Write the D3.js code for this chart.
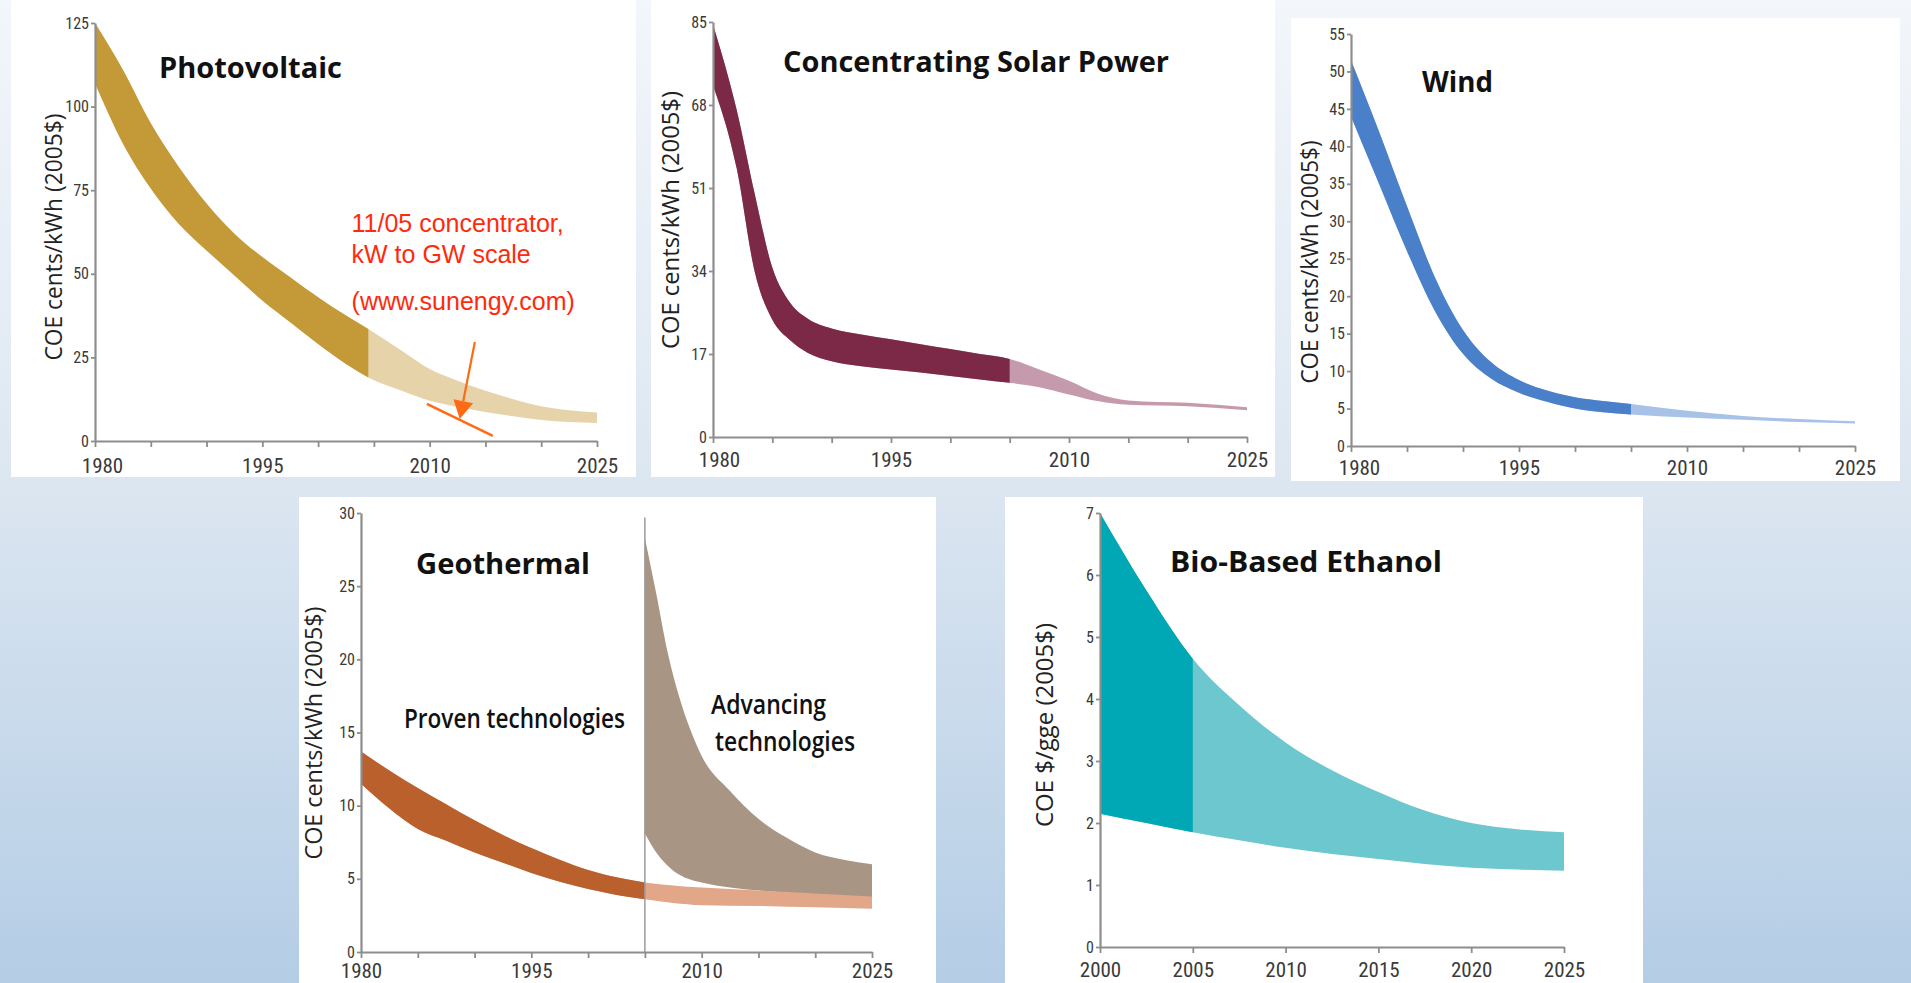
<!DOCTYPE html>
<html><head><meta charset="utf-8">
<script src="https://cdn.jsdelivr.net/npm/d3@7"></script>
<style>
html,body{margin:0;padding:0;overflow:hidden;background:#fff;}
svg{display:block;}
</style></head>
<body>
<svg id="c" width="1911" height="983"></svg>
<script>
// ---------------- DATA ----------------
const yearTicks = [1980, 1985, 1990, 1995, 2000, 2005, 2010, 2015, 2020, 2025];
const yearLabels = [1980, 1995, 2010, 2025];
const ethYearTicks = [2000, 2005, 2010, 2015, 2020, 2025];
const ethYearLabels = [2000, 2005, 2010, 2015, 2020, 2025];

const pvYTicks = [0, 25, 50, 75, 100, 125];
const cspYTicks = [0, 17, 34, 51, 68, 85];
const windYTicks = [0, 5, 10, 15, 20, 25, 30, 35, 40, 45, 50, 55];
const geoYTicks = [0, 5, 10, 15, 20, 25, 30];
const ethYTicks = [0, 1, 2, 3, 4, 5, 6, 7];

// Photovoltaic (cents/kWh)
const pvYears = [1980, 1982.5, 1985, 1987.5, 1990, 1992.5, 1995, 1997.5, 2000, 2002.5, 2004.5, 2007.5, 2010, 2012.5, 2015, 2017.5, 2020, 2022.5, 2025];
const pvHigh  = [125, 111, 95, 82, 71, 62, 55, 49, 43, 37.5, 33.5, 27, 21.5, 18, 15, 12.5, 10.4, 9.2, 8.5];
const pvLow   = [107, 89, 75.5, 65, 57, 49.5, 42, 35.5, 29, 23, 19, 15, 12, 10.2, 8.7, 7.4, 6.3, 5.7, 5.4];
const pvSplit = 2004.5;

// Concentrating Solar Power
const cspYears = [1980, 1982, 1983.5, 1985, 1986.5, 1988, 1990, 1992.5, 1995, 1997.5, 2000, 2002.5, 2005, 2007.5, 2010, 2012.5, 2015, 2020, 2025];
const cspHigh  = [84.5, 67, 50, 34.7, 27.5, 24.2, 22.2, 21, 20, 19, 18, 17, 16, 13.8, 11.5, 8.8, 7.5, 7.0, 6.1];
const cspLow   = [72, 55, 34, 24, 19.8, 17.2, 15.5, 14.5, 13.8, 13.2, 12.5, 11.8, 11.1, 10.2, 8.7, 7.3, 6.6, 6.3, 5.5];
const cspSplit = 2005;

// Wind
const windYears = [1980, 1982.5, 1985, 1987.5, 1990, 1992.5, 1995, 1997.5, 2000, 2002.5, 2005, 2010, 2015, 2020, 2025];
const windHigh  = [51.5, 42, 32, 22.5, 15.5, 11.2, 8.8, 7.4, 6.5, 6.0, 5.6, 4.7, 4.0, 3.6, 3.3];
const windLow   = [44, 35, 26, 18, 12.3, 9.0, 7.1, 5.9, 5.0, 4.5, 4.2, 3.8, 3.5, 3.2, 3.0];
const windSplit = 2005;

// Geothermal – proven technologies
const geoYears = [1980, 1982.5, 1985, 1987.5, 1990, 1992.5, 1995, 1997.5, 2000, 2002.5, 2005, 2007.5, 2010, 2015, 2020, 2025];
const geoHigh  = [13.7, 12.4, 11.2, 10.1, 9.0, 8.0, 7.1, 6.3, 5.6, 5.1, 4.75, 4.55, 4.4, 4.2, 4.0, 3.8];
const geoLow   = [11.5, 9.8, 8.4, 7.6, 6.8, 6.1, 5.4, 4.8, 4.3, 3.9, 3.6, 3.35, 3.2, 3.15, 3.05, 2.95];
const geoSplit = 2005;
// Geothermal – advancing technologies
const advYears = [2005, 2006, 2007, 2008, 2009, 2010, 2012.5, 2015, 2017.5, 2020, 2022.5, 2025];
const advHigh  = [28.3, 24.5, 20.5, 17.5, 15.2, 13.4, 11.0, 9.1, 7.8, 6.8, 6.3, 6.0];
const advLow   = [8.1, 6.8, 5.9, 5.3, 4.95, 4.75, 4.4, 4.2, 4.05, 3.95, 3.8, 3.65];

// Bio-based ethanol ($/gge)
const ethYears = [2000, 2002.5, 2005, 2007.5, 2010, 2012.5, 2015, 2017.5, 2020, 2022.5, 2025];
const ethHigh  = [7.0, 5.75, 4.65, 3.9, 3.3, 2.85, 2.5, 2.2, 2.0, 1.9, 1.85];
const ethLow   = [2.15, 2.0, 1.85, 1.72, 1.6, 1.5, 1.42, 1.34, 1.28, 1.25, 1.23];
const ethSplit = 2005;

// annotation (in PV data coordinates)
const noteLines = ["11/05 concentrator,", "kW to GW scale", "(www.sunengy.com)"];

// ---------------- LAYOUT / STYLE ----------------
const TICK_FONT = '"Liberation Sans Narrow", "Roboto Condensed", "DejaVu Sans Condensed", Roboto, sans-serif';
const TITLE_FONT = '"Open Sans", "Noto Sans", sans-serif';

const panels = [
  { box:[11,0,625,477], px:[95,597], py:[441,23], xd:[1980,2025], yd:[0,125],
    xt:yearTicks, xl:yearLabels, yt:pvYTicks, labelGap:11, firstShift:7,
    series:[{years:pvYears, hi:pvHigh, lo:pvLow, split:pvSplit, dark:"#c49a38", light:"#e6d3a9"}],
    title:[{t:"Photovoltaic", x:159, y:78, w:183}],
    ytitle:{t:"COE cents/kWh (2005$)", x:54, y:237, w:247} },
  { box:[651,0,624,477], px:[713,1247], py:[437,22], xd:[1980,2025], yd:[0,85],
    xt:yearTicks, xl:yearLabels, yt:cspYTicks, labelGap:9, firstShift:6,
    series:[{years:cspYears, hi:cspHigh, lo:cspLow, split:cspSplit, dark:"#7b2947", light:"#c69aad"}],
    title:[{t:"Concentrating Solar Power", x:783, y:72, w:386}],
    ytitle:{t:"COE cents/kWh (2005$)", x:671, y:220, w:258} },
  { box:[1291,18,609,463], px:[1351,1855], py:[446,34], xd:[1980,2025], yd:[0,55],
    xt:yearTicks, xl:yearLabels, yt:windYTicks, labelGap:8, firstShift:8,
    series:[{years:windYears, hi:windHigh, lo:windLow, split:windSplit, dark:"#4a7fc9", light:"#a8c2e7"}],
    title:[{t:"Wind", x:1422, y:92, w:71}],
    ytitle:{t:"COE cents/kWh (2005$)", x:1310, y:262, w:243} },
  { box:[299,497,637,486], px:[361,872], py:[952,513], xd:[1980,2025], yd:[0,30],
    xt:yearTicks, xl:yearLabels, yt:geoYTicks, labelGap:5, firstShift:0,
    series:[
      {years:advYears, hi:advHigh, lo:advLow, split:null, dark:"#a89584", light:"#a89584"},
      {years:geoYears, hi:geoHigh, lo:geoLow, split:geoSplit, dark:"#b9602d", light:"#e2a688"}],
    divider:2005,
    title:[{t:"Geothermal", x:416, y:574, w:174},
           {t:"Proven technologies", x:404, y:728, w:221, s:27},
           {t:"Advancing", x:711, y:714, w:115, s:27},
           {t:"technologies", x:715, y:751, w:140, s:27}],
    ytitle:{t:"COE cents/kWh (2005$)", x:314, y:733, w:253} },
  { box:[1005,497,638,486], px:[1100,1564], py:[947,513], xd:[2000,2025], yd:[0,7],
    xt:ethYearTicks, xl:ethYearLabels, yt:ethYTicks, labelGap:9, firstShift:0,
    series:[{years:ethYears, hi:ethHigh, lo:ethLow, split:ethSplit, dark:"#00a7b4", light:"#6cc7cf"}],
    title:[{t:"Bio-Based Ethanol", x:1170, y:572, w:272}],
    ytitle:{t:"COE $/gge (2005$)", x:1045, y:725, w:204} }
];

// ---------------- DRAW ----------------
const svg = d3.select("#c");
const defs = svg.append("defs");
const grad = defs.append("linearGradient").attr("id","bg").attr("x1",0).attr("y1",0).attr("x2",0).attr("y2",1);
[["0","#f3f6fa"],["0.45","#dfe8f2"],["1","#b4cde5"]].forEach(s=>grad.append("stop").attr("offset",s[0]).attr("stop-color",s[1]));
svg.append("rect").attr("width",1911).attr("height",983).attr("fill","url(#bg)");

panels.forEach((p, pi) => {
  const g = svg.append("g");
  g.append("rect").attr("x",p.box[0]).attr("y",p.box[1]).attr("width",p.box[2]).attr("height",p.box[3]).attr("fill","#fff");
  const x = d3.scaleLinear().domain(p.xd).range(p.px);
  const y = d3.scaleLinear().domain(p.yd).range(p.py);
  p.x = x; p.y = y;

  const area = d3.area().x(d=>x(d.year)).y0(d=>y(d.lo)).y1(d=>y(d.hi)).curve(d3.curveMonotoneX);

  p.series.forEach((s, si) => {
    const pts = s.years.map((yr,i)=>({year:yr, hi:s.hi[i], lo:s.lo[i]}));
    g.append("path").attr("d", area(pts)).attr("fill", s.light);
    if (s.split != null) {
      const cid = `clip${pi}_${si}`;
      defs.append("clipPath").attr("id",cid).append("rect")
        .attr("x", x(s.years[0]) - 2).attr("y", p.py[1] - 20)
        .attr("width", x(s.split) - x(s.years[0]) + 2).attr("height", p.py[0] - p.py[1] + 40);
      g.append("path").attr("d", area(pts)).attr("fill", s.dark).attr("clip-path", `url(#${cid})`);
    }
  });

  if (p.divider != null) {
    g.append("line").attr("x1",x(p.divider)).attr("x2",x(p.divider))
      .attr("y1",y(29.7)).attr("y2",y(0)).attr("stroke","#9b9b9b").attr("stroke-width",1.5);
  }

  // axes
  const lab = new Set(p.xl);
  const xa = g.append("g").attr("transform",`translate(0,${p.py[0]})`)
    .call(d3.axisBottom(x).tickValues(p.xt).tickSize(6).tickSizeOuter(0).tickPadding(p.labelGap)
      .tickFormat(d => lab.has(d) ? String(d) : ""));
  const ya = g.append("g").attr("transform",`translate(${p.px[0]},0)`)
    .call(d3.axisLeft(y).tickValues(p.yt).tickSize(4).tickSizeOuter(0).tickPadding(2)
      .tickFormat(d => String(d)));
  [xa, ya].forEach(a => {
    a.attr("font-family", null).attr("font-size", null);
    a.selectAll("path.domain").attr("stroke","#8d8d8d").attr("stroke-width",2.2);
    a.selectAll(".tick line").attr("stroke","#8d8d8d").attr("stroke-width",1.8);
    a.selectAll("text").attr("fill","#3a3a3a").style("font-family",TICK_FONT);
  });
  xa.selectAll("text").style("font-size","21px");
  ya.selectAll("text").style("font-size","16px");
  if (p.firstShift) xa.selectAll(".tick").filter(d => d === p.xd[0]).select("text").attr("dx", p.firstShift);

  // titles
  p.title.forEach(t => {
    g.append("text").attr("x",t.x).attr("y",t.y).text(t.t)
      .style("font-family",TITLE_FONT).style("font-weight", t.s ? 600 : 700)
      .style("font-size",(t.s||28)+"px").attr("fill","#111")
      .attr("textLength",t.w).attr("lengthAdjust","spacingAndGlyphs");
  });
  const yt = p.ytitle;
  g.append("text").attr("transform",`translate(${yt.x},${yt.y}) rotate(-90)`)
    .attr("text-anchor","middle").attr("dy","0.35em").text(yt.t)
    .style("font-family",TITLE_FONT).style("font-size","23px").attr("fill","#222")
    .attr("textLength",yt.w).attr("lengthAdjust","spacingAndGlyphs");
});

// annotation on the photovoltaic panel
(function(){
  const p = panels[0], x = p.x, y = p.y;
  const g = svg.append("g");
  const base = [62.5, 53.2, 39.2];
  noteLines.forEach((t,i)=>{
    g.append("text").attr("x", x(2003.0)).attr("y", y(base[i])).text(t)
      .style("font-family",'"Liberation Sans", Arial, sans-serif').style("font-size","25px")
      .attr("fill","#ff2a0c");
  });
  const orange = "#ff6a14";
  g.append("line").attr("x1",x(2009.75)).attr("y1",y(11.1)).attr("x2",x(2015.66)).attr("y2",y(1.5))
    .attr("stroke",orange).attr("stroke-width",2.5);
  const sx = x(2014.05), sy = y(29.6), tx = x(2012.7), ty = y(6.6);
  const ang = Math.atan2(ty-sy, tx-sx);
  const L = 18, W = 10;
  const bx = tx - L*Math.cos(ang), by = ty - L*Math.sin(ang);
  g.append("line").attr("x1",sx).attr("y1",sy).attr("x2",bx).attr("y2",by)
    .attr("stroke",orange).attr("stroke-width",2.2);
  const nx = -Math.sin(ang), ny = Math.cos(ang);
  g.append("path").attr("d",`M${tx},${ty}L${bx+nx*W},${by+ny*W}L${bx-nx*W},${by-ny*W}Z`).attr("fill",orange);
})();
</script>
</body></html>
